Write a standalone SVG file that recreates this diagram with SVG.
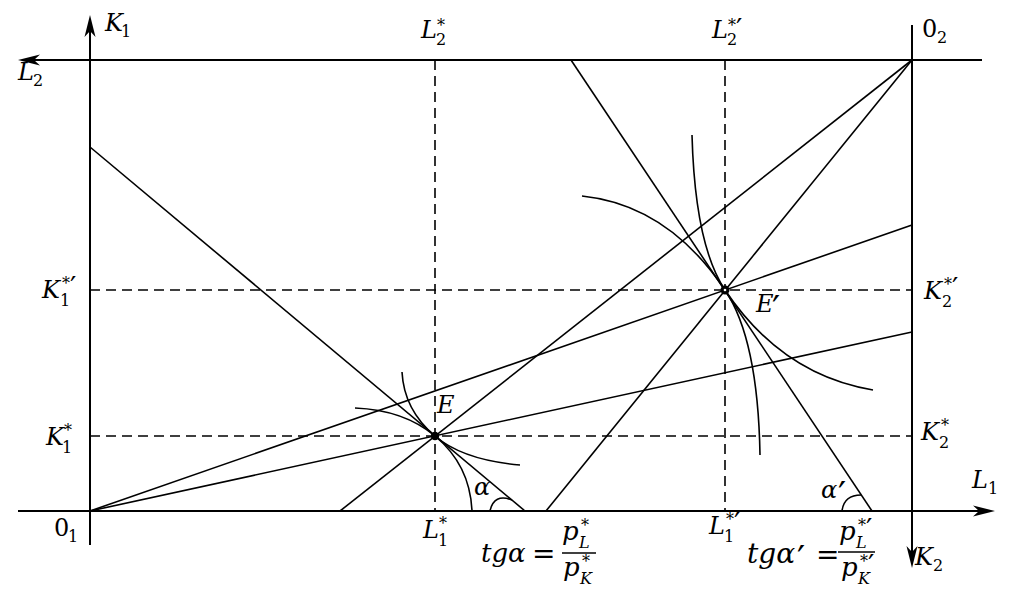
<svg xmlns="http://www.w3.org/2000/svg" width="1024" height="595" viewBox="0 0 1024 595">
<style>
.ax{stroke:#000;stroke-width:2;fill:none}
.ln{stroke:#000;stroke-width:1.6;fill:none}
.ds{stroke:#000;stroke-width:1.6;stroke-dasharray:10 6;fill:none}
text{font-family:"DejaVu Serif",serif;fill:#000}
.i{font-style:italic;font-size:24px}
.r{font-style:normal;font-size:24px}
.eq{font-style:normal;font-size:28px}
.f{font-style:italic;font-size:26px}
.f2{font-style:italic;font-size:28px}
.sd{font-style:normal;font-size:16px}
.si{font-style:italic;font-size:16px}
.pr{font-family:"DejaVu Sans",sans-serif;font-style:normal;font-size:36px}
.ps{font-family:"DejaVu Sans",sans-serif;font-style:normal;font-size:28px}
</style>
<defs>
<marker id="arr" viewBox="-11 -6 24 12" refX="0" refY="0" markerWidth="24" markerHeight="12" markerUnits="userSpaceOnUse" orient="auto">
<path d="M12,0 L-10,-5.5 L-4,0 L-10,5.5 Z" fill="#000"/>
</marker>
</defs>
<rect width="1024" height="595" fill="#fff"/>
<g id="axes">
<line class="ax" x1="90" y1="545" x2="90" y2="27" marker-end="url(#arr)"/>
<line class="ax" x1="982" y1="60" x2="30" y2="60" marker-end="url(#arr)"/>
<line class="ax" x1="912" y1="25" x2="912" y2="556" marker-end="url(#arr)"/>
<line class="ax" x1="18" y1="511" x2="983" y2="511" marker-end="url(#arr)"/>
</g>
<g id="guides">
<line class="ds" x1="435" y1="60" x2="435" y2="511"/>
<line class="ds" x1="725" y1="60" x2="725" y2="511"/>
<line class="ds" x1="90" y1="436" x2="912" y2="436"/>
<line class="ds" x1="90" y1="290" x2="912" y2="290"/>
</g>
<g id="connectors">
<line class="ln" x1="90" y1="511" x2="912" y2="332"/>
<line class="ln" x1="90" y1="511" x2="912" y2="225"/>
<line class="ln" x1="340" y1="511" x2="912" y2="60"/>
<line class="ln" x1="546" y1="511" x2="912" y2="60"/>
<line class="ln" x1="90" y1="147" x2="525" y2="511"/>
<line class="ln" x1="571" y1="60" x2="872" y2="511"/>
</g>
<g id="isoquants">
<path class="ln" d="M402,372 Q404,410 435,436 Q463,460 520,465"/>
<path class="ln" d="M355,408 Q404,410 435,436 Q470,465 472,511"/>
<path class="ln" d="M692,135 Q695,245 725,290 Q782,375 873,390"/>
<path class="ln" d="M582,196 Q668,205 725,290 Q758,339 760,455"/>
<path class="ln" d="M490,511 Q494,493 512,500"/>
<path class="ln" d="M842,511 Q844,495 861,495"/>
</g>
<g id="point-E">
<circle cx="435" cy="436" r="4.2" fill="#000"/>
<text class="i" x="437" y="413">E</text>
</g>
<g id="point-E2">
<circle cx="725" cy="290" r="4.5" fill="#000"/>
<circle cx="725" cy="290" r="1.3" fill="#fff"/>
<text x="756" y="312"><tspan class="i">E</tspan><tspan class="pr" x="772" y="321">′</tspan></text>
</g>
<g id="labels">
<text x="105" y="31"><tspan class="i">K</tspan><tspan class="sd" x="121" y="37">1</tspan></text>
<text x="18" y="80"><tspan class="i">L</tspan><tspan class="sd" x="33" y="86">2</tspan></text>
<text x="421" y="38"><tspan class="i">L</tspan><tspan class="sd" x="436" y="45">2</tspan><tspan class="sd" x="437" y="31">*</tspan></text>
<text x="712" y="38"><tspan class="i">L</tspan><tspan class="sd" x="727" y="45">2</tspan><tspan class="sd" x="728" y="31">*</tspan><tspan class="ps" x="736" y="39">′</tspan></text>
<text x="922" y="37"><tspan class="r">0</tspan><tspan class="sd" x="937" y="43">2</tspan></text>
<text x="42" y="298"><tspan class="i">K</tspan><tspan class="sd" x="60" y="306">1</tspan><tspan class="sd" x="62" y="289">*</tspan><tspan class="ps" x="70" y="297">′</tspan></text>
<text x="46" y="445"><tspan class="i">K</tspan><tspan class="sd" x="62" y="453">1</tspan><tspan class="sd" x="64" y="436">*</tspan></text>
<text x="924" y="299"><tspan class="i">K</tspan><tspan class="sd" x="942" y="307">2</tspan><tspan class="sd" x="944" y="290">*</tspan><tspan class="ps" x="952" y="298">′</tspan></text>
<text x="921" y="440"><tspan class="i">K</tspan><tspan class="sd" x="939" y="448">2</tspan><tspan class="sd" x="941" y="431">*</tspan></text>
<text class="i" x="474" y="495">α</text>
<text x="821" y="498"><tspan class="i">α</tspan><tspan class="pr" x="838" y="507">′</tspan></text>
<text x="423" y="538"><tspan class="i">L</tspan><tspan class="sd" x="438" y="546">1</tspan><tspan class="sd" x="439" y="529">*</tspan></text>
<text x="709" y="534"><tspan class="i">L</tspan><tspan class="sd" x="724" y="542">1</tspan><tspan class="sd" x="726" y="525">*</tspan><tspan class="ps" x="734" y="533">′</tspan></text>
<text x="972" y="488"><tspan class="i">L</tspan><tspan class="sd" x="988" y="494">1</tspan></text>
<text x="915" y="565"><tspan class="i">K</tspan><tspan class="sd" x="933" y="571">2</tspan></text>
<text x="54" y="536"><tspan class="r">0</tspan><tspan class="sd" x="68" y="542">1</tspan></text>
</g>
<g id="formula-1">
<text x="481" y="562"><tspan class="f">tgα</tspan><tspan class="eq" x="532" y="563">=</tspan></text>
<line x1="562" y1="553" x2="596" y2="553" stroke="#000" stroke-width="1.5"/>
<text x="562" y="540"><tspan class="f">p</tspan><tspan class="si" x="579" y="548">L</tspan><tspan class="sd" x="581" y="531">*</tspan></text>
<text x="563" y="576"><tspan class="f">p</tspan><tspan class="si" x="580" y="584">K</tspan><tspan class="sd" x="582" y="567">*</tspan></text>
</g>
<g id="formula-2">
<text x="747" y="563"><tspan class="f2">tgα</tspan><tspan class="pr" x="797" y="571">′</tspan><tspan class="eq" x="816" y="564">=</tspan></text>
<line x1="838" y1="552" x2="875" y2="552" stroke="#000" stroke-width="1.5"/>
<text x="839" y="540"><tspan class="f">p</tspan><tspan class="si" x="856" y="548">L</tspan><tspan class="sd" x="858" y="531">*</tspan><tspan class="ps" x="866" y="539">′</tspan></text>
<text x="841" y="576"><tspan class="f">p</tspan><tspan class="si" x="858" y="584">K</tspan><tspan class="sd" x="860" y="567">*</tspan><tspan class="ps" x="868" y="575">′</tspan></text>
</g>
</svg>
